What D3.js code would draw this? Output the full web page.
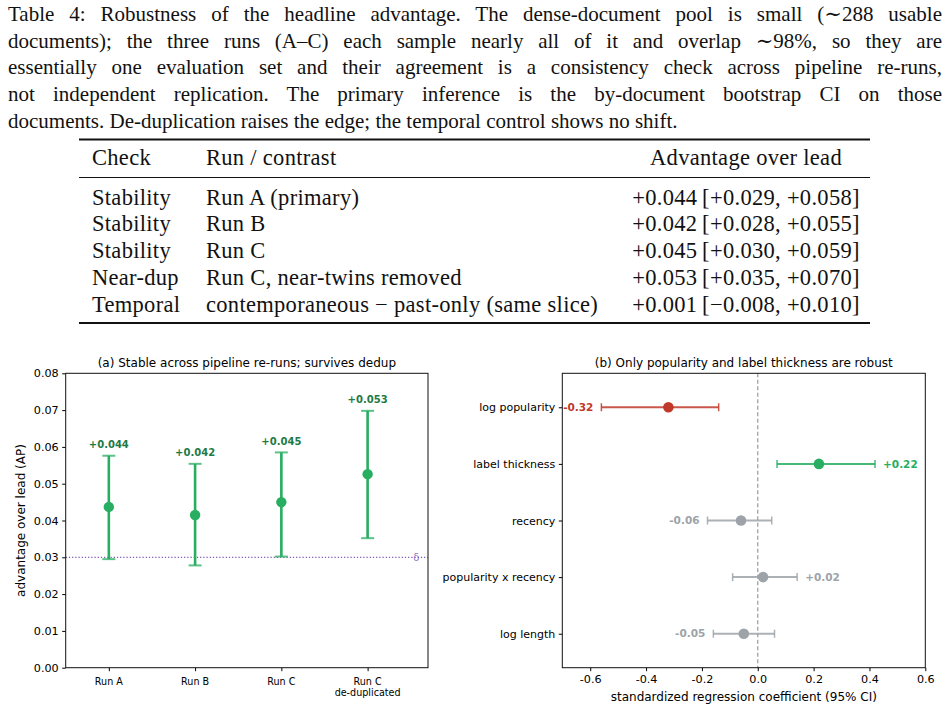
<!DOCTYPE html>
<html>
<head>
<meta charset="utf-8">
<script src="https://cdn.jsdelivr.net/npm/d3@7"></script>
<style>
  body { margin: 0; background: #fff; }
  svg { display: block; }
  .serif { font-family: "Liberation Serif", "DejaVu Serif", serif; fill: #111; }
  .sans { font-family: "DejaVu Sans", sans-serif; }
</style>
</head>
<body>
<div id="chart"></div>
<script>
const width = 950;
const height = 710;

// caption + table
const captionLines = [
  "Table 4: Robustness of the headline advantage. The dense-document pool is small (\u223c288 usable",
  "documents); the three runs (A\u2013C) each sample nearly all of it and overlap \u223c98%, so they are",
  "essentially one evaluation set and their agreement is a consistency check across pipeline re-runs,",
  "not independent replication. The primary inference is the by-document bootstrap CI on those",
  "documents. De-duplication raises the edge; the temporal control shows no shift.",
];
const tableHeader = ["Check", "Run / contrast", "Advantage over lead"];
const tableChecks = ["Stability", "Stability", "Stability", "Near-dup", "Temporal"];
const tableRuns = [
  "Run A (primary)",
  "Run B",
  "Run C",
  "Run C, near-twins removed",
  "contemporaneous \u2212 past-only (same slice)",
];
const tableValues = [
  "+0.044\u2009[+0.029, +0.058]",
  "+0.042\u2009[+0.028, +0.055]",
  "+0.045\u2009[+0.030, +0.059]",
  "+0.053\u2009[+0.035, +0.070]",
  "+0.001\u2009[\u22120.008, +0.010]",
];

// panel (a)
const runs = ["Run A", "Run B", "Run C", "Run C\nde-duplicated"];
const runMean = [0.0437, 0.0415, 0.045, 0.0526];
const runLow = [0.0295, 0.0278, 0.0302, 0.0352];
const runHigh = [0.0576, 0.0554, 0.0585, 0.0698];
const runLabels = ["+0.044", "+0.042", "+0.045", "+0.053"];
const aTicks = [0, 0.01, 0.02, 0.03, 0.04, 0.05, 0.06, 0.07, 0.08];
const threshold = 0.03;

// panel (b)
const predictors = [
  "log popularity",
  "label thickness",
  "recency",
  "popularity x recency",
  "log length",
];
const coef = [-0.32, 0.219, -0.06, 0.019, -0.05];
const coefLow = [-0.56, 0.069, -0.18, -0.09, -0.159];
const coefHigh = [-0.14, 0.42, 0.05, 0.141, 0.06];
const coefLabels = ["-0.32", "+0.22", "-0.06", "+0.02", "-0.05"];
const bTicks = [-0.6, -0.4, -0.2, 0, 0.2, 0.4, 0.6];

const green = "#27ae60";
const darkGreen = "#1e7a45";
const red = "#c0392b";
const grey = "#9da3a8";
const purple = "#7d55b0";

const svg = d3
  .select("#chart")
  .append("svg")
  .attr("width", width)
  .attr("height", height);

// ---- caption, justified by word-spacing
const capLeft = 8;
const capRight = 942;
captionLines.forEach((line, i) => {
  const t = svg
    .append("text")
    .attr("class", "serif")
    .attr("x", capLeft)
    .attr("y", 21 + i * 26.7)
    .attr("font-size", 21)
    .text(line);
  if (i < captionLines.length - 1) {
    const w = t.node().getComputedTextLength();
    const spaces = line.split(" ").length - 1;
    t.attr("word-spacing", (capRight - capLeft - w) / spaces);
  }
});

// ---- table
const table = svg
  .append("g")
  .attr("class", "serif")
  .attr("font-size", 22.5)
  .attr("letter-spacing", 0.3);
const ruleX = [79, 870];
const colX = [92, 206];
const valueCenter = 746;

table
  .selectAll(".rule")
  .data([
    { y: 139.5, w: 2 },
    { y: 177.5, w: 1 },
    { y: 323, w: 2 },
  ])
  .join("line")
  .attr("x1", ruleX[0])
  .attr("x2", ruleX[1])
  .attr("y1", (d) => d.y)
  .attr("y2", (d) => d.y)
  .attr("stroke", "#111")
  .attr("stroke-width", (d) => d.w);

const headerY = 165;
table.append("text").attr("x", colX[0]).attr("y", headerY).text(tableHeader[0]);
table.append("text").attr("x", colX[1]).attr("y", headerY).text(tableHeader[1]);
table
  .append("text")
  .attr("x", valueCenter)
  .attr("y", headerY)
  .attr("text-anchor", "middle")
  .text(tableHeader[2]);

const rowY = (i) => 204.5 + i * 26.8;
tableChecks.forEach((c, i) => {
  table.append("text").attr("x", colX[0]).attr("y", rowY(i)).text(c);
  table.append("text").attr("x", colX[1]).attr("y", rowY(i)).text(tableRuns[i]);
  table
    .append("text")
    .attr("x", valueCenter)
    .attr("y", rowY(i))
    .attr("text-anchor", "middle")
    .text(tableValues[i]);
});

// ---- panel (a)
const a = { left: 65.7, right: 428, top: 373.3, bottom: 667.7 };

const xA = d3.scaleLinear().domain([-0.5, 3.7]).range([a.left, a.right]);
const yA = d3.scaleLinear().domain([0, 0.08]).range([a.bottom, a.top]);

const gA = svg.append("g").attr("class", "sans");

gA.append("text")
  .attr("x", (a.left + a.right) / 2)
  .attr("y", a.top - 6.5)
  .attr("text-anchor", "middle")
  .attr("font-size", 12)
  .text("(a) Stable across pipeline re-runs; survives dedup");

gA.append("g")
  .attr("transform", `translate(${a.left},0)`)
  .call(
    d3
      .axisLeft(yA)
      .tickValues(aTicks)
      .tickFormat(d3.format(".2f"))
      .tickSize(3.5)
      .tickPadding(3.5)
  )
  .call((g) => g.select(".domain").remove())
  .call((g) => g.selectAll("text").attr("font-size", 11.2).attr("font-family", "DejaVu Sans"));

gA.append("g")
  .attr("transform", `translate(0,${a.bottom})`)
  .call(
    d3
      .axisBottom(xA)
      .tickValues(d3.range(runs.length))
      .tickFormat("")
      .tickSize(3.5)
  )
  .call((g) => g.select(".domain").remove());

runs.forEach((r, i) => {
  const t = gA
    .append("text")
    .attr("x", xA(i))
    .attr("y", a.bottom + 17)
    .attr("text-anchor", "middle")
    .attr("font-size", 9.6);
  r.split("\n").forEach((part, j) => {
    t.append("tspan").attr("x", xA(i)).attr("dy", j ? 11.3 : 0).text(part);
  });
});

gA.append("text")
  .attr("transform", `translate(21,${(a.top + a.bottom) / 2}) rotate(-90)`)
  .attr("text-anchor", "middle")
  .attr("dy", "0.35em")
  .attr("font-size", 12)
  .text("advantage over lead (AP)");

// threshold
gA.append("line")
  .attr("x1", a.left)
  .attr("x2", a.right)
  .attr("y1", yA(threshold))
  .attr("y2", yA(threshold))
  .attr("stroke", purple)
  .attr("stroke-width", 1.2)
  .attr("stroke-dasharray", "1.2,2");

gA.append("text")
  .attr("x", xA(3.6))
  .attr("y", yA(threshold))
  .attr("dy", "0.35em")
  .attr("text-anchor", "end")
  .attr("font-size", 10)
  .attr("fill", purple)
  .attr("fill-opacity", 0.8)
  .text("\u03b4");

const barsA = gA
  .selectAll(".run")
  .data(runs.map((r, i) => i))
  .join("g")
  .attr("class", "run");

barsA
  .append("line")
  .attr("x1", (i) => xA(i))
  .attr("x2", (i) => xA(i))
  .attr("y1", (i) => yA(runLow[i]))
  .attr("y2", (i) => yA(runHigh[i]))
  .attr("stroke", green)
  .attr("stroke-width", 2.6);

barsA
  .selectAll(".cap")
  .data((i) => [runLow[i], runHigh[i]].map((v) => ({ i, v })))
  .join("line")
  .attr("x1", (d) => xA(d.i) - 6.5)
  .attr("x2", (d) => xA(d.i) + 6.5)
  .attr("y1", (d) => yA(d.v))
  .attr("y2", (d) => yA(d.v))
  .attr("stroke", green)
  .attr("stroke-opacity", 0.75)
  .attr("stroke-width", 2);

barsA
  .append("circle")
  .attr("cx", (i) => xA(i))
  .attr("cy", (i) => yA(runMean[i]))
  .attr("r", 5.2)
  .attr("fill", green);

barsA
  .append("text")
  .attr("x", (i) => xA(i))
  .attr("y", (i) => yA(runHigh[i]) - 7.5)
  .attr("text-anchor", "middle")
  .attr("font-size", 10)
  .attr("font-weight", "bold")
  .attr("fill", darkGreen)
  .text((i) => runLabels[i]);

gA.append("rect")
  .attr("x", a.left)
  .attr("y", a.top)
  .attr("width", a.right - a.left)
  .attr("height", a.bottom - a.top)
  .attr("fill", "none")
  .attr("stroke", "#111")
  .attr("stroke-width", 1);

// ---- panel (b)
const b = { left: 562.3, right: 925.3, top: 373.3, bottom: 667.7 };

const xB = d3.scaleLinear().domain([-0.7, 0.6]).range([b.left, b.right]);
const yB = d3.scaleLinear().domain([-0.6, predictors.length - 0.4]).range([b.top, b.bottom]);

const colorOf = (i) => (coefHigh[i] < 0 ? red : coefLow[i] > 0 ? green : grey);

const gB = svg.append("g").attr("class", "sans");

gB.append("text")
  .attr("x", (b.left + b.right) / 2)
  .attr("y", b.top - 6.5)
  .attr("text-anchor", "middle")
  .attr("font-size", 12)
  .text("(b) Only popularity and label thickness are robust");

gB.append("g")
  .attr("transform", `translate(0,${b.bottom})`)
  .call(
    d3
      .axisBottom(xB)
      .tickValues(bTicks)
      .tickFormat((d) => (d < 0 ? "-" + d3.format(".1f")(-d) : d3.format(".1f")(d)))
      .tickSize(3.5)
      .tickPadding(3.5)
  )
  .call((g) => g.select(".domain").remove())
  .call((g) => g.selectAll("text").attr("font-size", 11.2).attr("font-family", "DejaVu Sans"));

gB.append("g")
  .attr("transform", `translate(${b.left},0)`)
  .call(
    d3
      .axisLeft(yB)
      .tickValues(d3.range(predictors.length))
      .tickFormat((i) => predictors[i])
      .tickSize(3.5)
      .tickPadding(3.5)
  )
  .call((g) => g.select(".domain").remove())
  .call((g) => g.selectAll("text").attr("font-size", 11).attr("font-family", "DejaVu Sans"));

gB.append("text")
  .attr("x", (b.left + b.right) / 2)
  .attr("y", b.bottom + 33.5)
  .attr("text-anchor", "middle")
  .attr("font-size", 12)
  .text("standardized regression coefficient (95% CI)");

gB.append("line")
  .attr("x1", xB(0))
  .attr("x2", xB(0))
  .attr("y1", b.top)
  .attr("y2", b.bottom)
  .attr("stroke", "#999")
  .attr("stroke-width", 1.2)
  .attr("stroke-dasharray", "4,2.5");

const barsB = gB
  .selectAll(".coef")
  .data(predictors.map((p, i) => i))
  .join("g")
  .attr("class", "coef");

barsB
  .append("line")
  .attr("x1", (i) => xB(coefLow[i]))
  .attr("x2", (i) => xB(coefHigh[i]))
  .attr("y1", (i) => yB(i))
  .attr("y2", (i) => yB(i))
  .attr("stroke", colorOf)
  .attr("stroke-opacity", 0.85)
  .attr("stroke-width", 2);

barsB
  .selectAll(".cap")
  .data((i) => [coefLow[i], coefHigh[i]].map((v) => ({ i, v })))
  .join("line")
  .attr("x1", (d) => xB(d.v))
  .attr("x2", (d) => xB(d.v))
  .attr("y1", (d) => yB(d.i) - 4)
  .attr("y2", (d) => yB(d.i) + 4)
  .attr("stroke", (d) => colorOf(d.i))
  .attr("stroke-opacity", 0.85)
  .attr("stroke-width", 1.5);

barsB
  .append("circle")
  .attr("cx", (i) => xB(coef[i]))
  .attr("cy", (i) => yB(i))
  .attr("r", 5.3)
  .attr("fill", colorOf);

barsB
  .append("text")
  .attr("x", (i) => (coef[i] < 0 ? xB(coefLow[i]) - 8 : xB(coefHigh[i]) + 8))
  .attr("y", (i) => yB(i))
  .attr("dy", "0.35em")
  .attr("text-anchor", (i) => (coef[i] < 0 ? "end" : "start"))
  .attr("font-size", 10.5)
  .attr("font-weight", "bold")
  .attr("fill", colorOf)
  .text((i) => coefLabels[i]);

gB.append("rect")
  .attr("x", b.left)
  .attr("y", b.top)
  .attr("width", b.right - b.left)
  .attr("height", b.bottom - b.top)
  .attr("fill", "none")
  .attr("stroke", "#111")
  .attr("stroke-width", 1);
</script>
</body>
</html>
